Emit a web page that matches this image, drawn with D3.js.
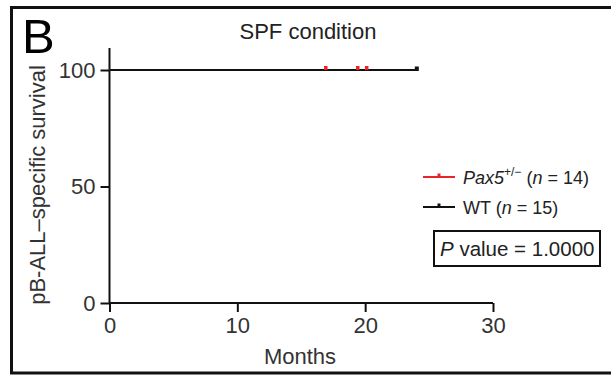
<!DOCTYPE html>
<html><head><meta charset="utf-8">
<script src="https://cdn.jsdelivr.net/npm/d3@7"></script>
<style>body{margin:0;background:#fff}svg{display:block;font-family:"Liberation Sans",Arial,sans-serif}</style>
</head><body><svg id="c" width="611" height="376"></svg>
<script>
const xTicks = [0, 10, 20, 30];
const yTicks = [0, 50, 100];
const groups = ["Pax5", "WT"];
const groupN = [14, 15];
const groupColors = ["#e8262a", "#111111"];
// survival step data (months, %), all at 100
const pax5Times = [0, 20.1];
const pax5Surv = [100, 100];
const pax5Censor = [16.9, 19.4, 20.1];
const wtTimes = [0, 24];
const wtSurv = [100, 100];
const wtCensor = [24];
const pValue = "1.0000";

const svg = d3.select("#c");
// frame
svg.append("rect").attr("x", 11.5).attr("y", 7.5).attr("width", 620).attr("height", 365.5)
  .attr("fill", "none").attr("stroke", "#111").attr("stroke-width", 3);

const x = d3.scaleLinear().domain([0, 30]).range([109.5, 493]);
const y = d3.scaleLinear().domain([0, 100]).range([303, 70]);

svg.append("text").attr("x", 22).attr("y", 53).attr("font-size", 49).attr("fill", "#000").text("B");
svg.append("text").attr("x", 308).attr("y", 39).attr("text-anchor", "middle").attr("font-size", 22).attr("fill", "#222").text("SPF condition");

// axes
const xa = svg.append("g").attr("transform", "translate(0,303)")
  .call(d3.axisBottom(x).tickValues(xTicks).tickSize(9).tickPadding(5).tickSizeOuter(0));
const ya = svg.append("g").attr("transform", "translate(109.5,0)")
  .call(d3.axisLeft(y).tickValues(yTicks).tickSize(9).tickPadding(5).tickSizeOuter(0));
[xa, ya].forEach(a => {
  a.select(".domain").attr("stroke", "#111").attr("stroke-width", 2);
  a.selectAll(".tick line").attr("stroke", "#111").attr("stroke-width", 2);
  a.selectAll(".tick text").attr("font-size", 22).attr("fill", "#333").attr("font-family", "Liberation Sans, Arial, sans-serif");
});
// extend y axis above 100
ya.select(".domain").attr("d", `M0,${y(0)}V48`);
xa.select(".domain").attr("d", `M${x(0)},0H${x(30)}`);

svg.append("text").attr("x", 300).attr("y", 364).attr("text-anchor", "middle").attr("font-size", 22).attr("fill", "#333").text("Months");
svg.append("text").attr("transform", "translate(45,185) rotate(-90)").attr("text-anchor", "middle")
  .attr("font-size", 22).attr("fill", "#333").text("pB-ALL\u2013specific survival");

const line = d3.line().curve(d3.curveStepAfter).x(d => x(d[0])).y(d => y(d[1]));
svg.append("path").datum(d3.zip(pax5Times, pax5Surv)).attr("d", line).attr("fill", "none")
  .attr("stroke", groupColors[0]).attr("stroke-width", 2);
svg.append("path").datum(d3.zip(wtTimes, wtSurv)).attr("d", line).attr("fill", "none")
  .attr("stroke", groupColors[1]).attr("stroke-width", 2);
svg.selectAll(".cp").data(pax5Censor).join("rect").attr("x", d => x(d) - 1.5).attr("y", y(100) - 4)
  .attr("width", 3.5).attr("height", 4).attr("fill", groupColors[0]);
svg.selectAll(".cw").data(wtCensor).join("rect").attr("x", d => x(d) - 1.5).attr("y", y(100) - 3.5)
  .attr("width", 4).attr("height", 4.5).attr("fill", groupColors[1]);

// legend
const leg = [[177, 0], [207, 1]];
leg.forEach(([ly, i]) => {
  svg.append("line").attr("x1", 423).attr("x2", 455).attr("y1", ly).attr("y2", ly)
    .attr("stroke", groupColors[i]).attr("stroke-width", 2);
  svg.append("rect").attr("x", 437.5).attr("y", ly - 3.5).attr("width", 3).attr("height", 3.5).attr("fill", groupColors[i]);
});
const t1 = svg.append("text").attr("x", 463).attr("y", 184).attr("font-size", 18).attr("fill", "#222");
t1.append("tspan").attr("font-style", "italic").text(groups[0]);
t1.append("tspan").attr("font-size", 12).attr("dy", -8).text("+/\u2212");
t1.append("tspan").attr("dy", 8).text(" (");
t1.append("tspan").attr("font-style", "italic").text("n");
t1.append("tspan").text(" = " + groupN[0] + ")");
const t2 = svg.append("text").attr("x", 463).attr("y", 214).attr("font-size", 18).attr("fill", "#222");
t2.append("tspan").text(groups[1] + " (");
t2.append("tspan").attr("font-style", "italic").text("n");
t2.append("tspan").text(" = " + groupN[1] + ")");

svg.append("rect").attr("x", 434).attr("y", 231).attr("width", 166).attr("height", 35)
  .attr("fill", "none").attr("stroke", "#111").attr("stroke-width", 2);
const t3 = svg.append("text").attr("x", 440).attr("y", 256).attr("font-size", 20.5).attr("fill", "#222");
t3.append("tspan").attr("font-style", "italic").text("P");
t3.append("tspan").text(" value = " + pValue);
</script></body></html>
